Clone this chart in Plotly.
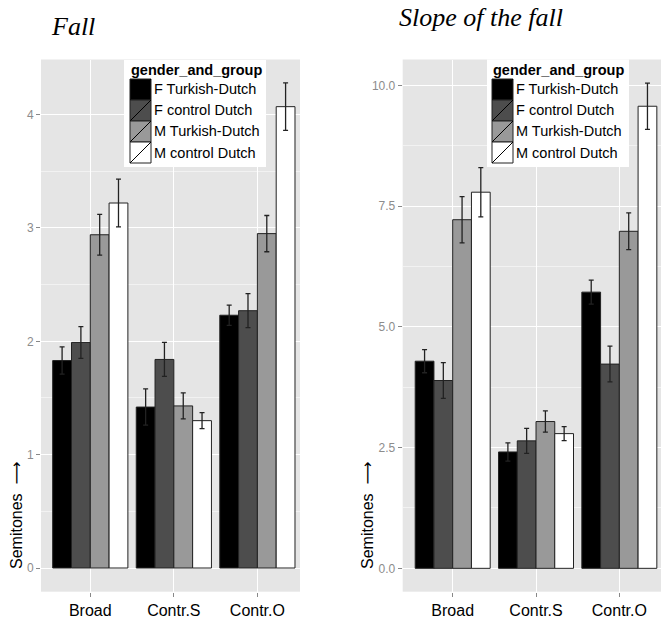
import plotly.graph_objects as go

# ---- data -------------------------------------------------------------
categories = ["Broad", "Contr.S", "Contr.O"]
groups = ["F Turkish-Dutch", "F control Dutch", "M Turkish-Dutch", "M control Dutch"]
fill_colors = ["#000000", "#4d4d4d", "#999999", "#ffffff"]

# Fall (semitones): means and error half-widths per category
fall_f_turkish = [1.83, 1.42, 2.23]
fall_f_control = [1.99, 1.84, 2.27]
fall_m_turkish = [2.94, 1.43, 2.95]
fall_m_control = [3.22, 1.30, 4.07]
fall_err_f_turkish = [0.12, 0.16, 0.09]
fall_err_f_control = [0.14, 0.15, 0.15]
fall_err_m_turkish = [0.18, 0.115, 0.16]
fall_err_m_control = [0.21, 0.07, 0.21]

# Slope of the fall (semitones)
slope_f_turkish = [4.29, 2.41, 5.72]
slope_f_control = [3.89, 2.64, 4.23]
slope_m_turkish = [7.22, 3.04, 6.98]
slope_m_control = [7.79, 2.79, 9.57]
slope_err_f_turkish = [0.24, 0.19, 0.25]
slope_err_f_control = [0.37, 0.26, 0.37]
slope_err_m_turkish = [0.48, 0.22, 0.38]
slope_err_m_control = [0.51, 0.145, 0.48]

fall_means = [fall_f_turkish, fall_f_control, fall_m_turkish, fall_m_control]
fall_errs = [fall_err_f_turkish, fall_err_f_control, fall_err_m_turkish, fall_err_m_control]
slope_means = [slope_f_turkish, slope_f_control, slope_m_turkish, slope_m_control]
slope_errs = [slope_err_f_turkish, slope_err_f_control, slope_err_m_turkish, slope_err_m_control]

# ---- figure -----------------------------------------------------------
W, H = 661, 618
SANS = "Liberation Sans, Arial, sans-serif"
SERIF = "Liberation Serif, Times New Roman, serif"


def px(x):
    return x / W


def py(y):
    return 1 - y / H


fig = go.Figure()

for means, errs, xa, ya in [(fall_means, fall_errs, "x", "y"),
                            (slope_means, slope_errs, "x2", "y2")]:
    for name, color, vals, err in zip(groups, fill_colors, means, errs):
        fig.add_trace(go.Bar(
            x=categories, y=vals, name=name,
            xaxis=xa, yaxis=ya, showlegend=False,
            marker=dict(color=color, line=dict(color="#222222", width=1)),
            error_y=dict(type="data", array=err, visible=True,
                         color="#222222", thickness=1.3, width=2.5),
        ))

ydom = [py(591.7), py(59.5)]
common_x = dict(
    type="category", showgrid=True, gridcolor="#ffffff", gridwidth=1.2,
    ticks="outside", ticklen=4, tickcolor="#888888", tickwidth=1,
    tickfont=dict(family=SANS, size=16, color="#000000"),
    zeroline=False, showline=False, automargin=False, fixedrange=True,
)
common_y = dict(
    showgrid=True, gridcolor="#ffffff", gridwidth=1.2,
    ticks="outside", ticklen=4, tickcolor="#888888", tickwidth=1,
    tickfont=dict(family=SANS, size=12, color="#8c8c8c"),
    zeroline=False, showline=False, automargin=False, domain=ydom,
)

fig.update_layout(
    width=W, height=H,
    margin=dict(l=0, r=0, t=0, b=0),
    paper_bgcolor="#ffffff",
    plot_bgcolor="#e5e5e5",
    barmode="group", bargap=0.1, bargroupgap=0,
    xaxis=dict(common_x, domain=[px(41), px(300)], range=[-0.59, 2.51], anchor="y"),
    yaxis=dict(common_y, range=[-0.209, 4.486], dtick=1, tick0=0, anchor="x",
               minor=dict(dtick=0.5, tick0=0, showgrid=True, gridcolor="#f2f2f2",
                          gridwidth=0.6, ticks="")),
    xaxis2=dict(common_x, domain=[px(402.7), 1.0], range=[-0.6, 2.5], anchor="y2"),
    yaxis2=dict(common_y, range=[-0.484, 10.538], dtick=2.5, tick0=0,
                tickformat=".1f", anchor="x2",
                minor=dict(dtick=1.25, tick0=0, showgrid=True, gridcolor="#f2f2f2",
                           gridwidth=0.6, ticks="")),
    showlegend=False,
)

shapes = []
annotations = []

# panel titles
annotations.append(dict(text="<i>Fall</i>", x=px(49), y=py(27), xref="paper", yref="paper",
                        xanchor="left", yanchor="middle", showarrow=False,
                        font=dict(family=SERIF, size=26, color="#000000")))
annotations.append(dict(text="<i>Slope of the fall</i>", x=px(396.5), y=py(18),
                        xref="paper", yref="paper", xanchor="left", yanchor="middle",
                        showarrow=False, font=dict(family=SERIF, size=26, color="#000000")))

# y axis labels
for xc in (16, 367):
    annotations.append(dict(
        text="Semitones&nbsp;&nbsp;"
             "<span style=\"font-family:DejaVu Sans;font-size:16px\">\u27f6</span>",
        x=px(xc), y=py(516), xref="paper", yref="paper",
        xanchor="center", yanchor="middle", textangle=-90, showarrow=False,
        font=dict(family=SANS, size=16, color="#000000")))

# in-panel legends
KEY = 21
for bx0, bx1, by0, by1, kx, ktop in [(124, 266, 60, 167, 130, 79),
                                     (487, 629, 59.5, 167, 492, 79)]:
    shapes.append(dict(type="rect", xref="paper", yref="paper",
                       x0=px(bx0), x1=px(bx1), y0=py(by1), y1=py(by0),
                       fillcolor="#ffffff", line=dict(width=0), layer="above"))
    annotations.append(dict(text="<b>gender_and_group</b>", x=px(kx - 1), y=py(ktop - 9),
                            xref="paper", yref="paper", xanchor="left", yanchor="middle",
                            showarrow=False,
                            font=dict(family=SANS, size=14.5, color="#000000")))
    for i, (name, color) in enumerate(zip(groups, fill_colors)):
        t = ktop + i * KEY
        shapes.append(dict(type="rect", xref="paper", yref="paper",
                           x0=px(kx), x1=px(kx + KEY), y0=py(t + KEY), y1=py(t),
                           fillcolor=color, line=dict(color="#222222", width=1),
                           layer="above"))
        shapes.append(dict(type="line", xref="paper", yref="paper",
                           x0=px(kx), y0=py(t + KEY), x1=px(kx + KEY), y1=py(t),
                           line=dict(color="#000000", width=1), layer="above"))
        annotations.append(dict(text=name, x=px(kx + KEY + 1), y=py(t + KEY / 2),
                                xref="paper", yref="paper", xanchor="left",
                                yanchor="middle", showarrow=False,
                                font=dict(family=SANS, size=14.5, color="#000000")))

fig.update_layout(shapes=shapes, annotations=annotations)

fig.write_html("out.html")
